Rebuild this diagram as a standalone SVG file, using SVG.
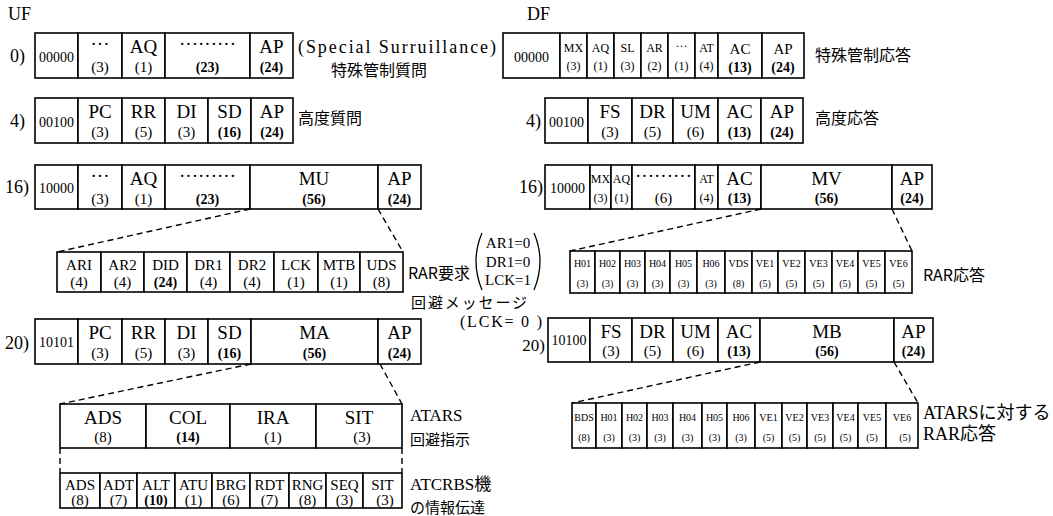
<svg xmlns="http://www.w3.org/2000/svg" width="1053" height="516" viewBox="0 0 1053 516">
<style>
.c{fill:#fff;stroke:#000;stroke-width:1.6}
text{font-family:"Liberation Serif","Noto Sans CJK JP",serif;fill:#000;text-anchor:middle}
.l{font-size:19px}
.n{font-size:14px;font-weight:bold}
.m{font-size:15px}
.s{font-size:12px}
.t{font-size:10px}
.f{font-size:14px}
.j{font-family:"Noto Sans CJK JP",sans-serif;font-size:16px;text-anchor:start}
.h{font-size:18px;text-anchor:start}
.d{fill:none;stroke:#000;stroke-width:1.4;stroke-dasharray:6 4}
</style>
<rect width="1053" height="516" fill="#fff"/>
<text class="h" x="8" y="20">UF</text>
<text class="h" x="527" y="20">DF</text>

<g id="uf0">
<text class="h" x="10" y="62">0)</text>
<rect class="c" x="35" y="33" width="43" height="45"/><text class="f" x="56.5" y="62">00000</text>
<rect class="c" x="78" y="33" width="44" height="45"/><text class="l" x="100" y="50">···</text><text class="m" x="100" y="72">(3)</text>
<rect class="c" x="122" y="33" width="43" height="45"/><text class="l" x="143.5" y="53">AQ</text><text class="m" x="143.5" y="72">(1)</text>
<rect class="c" x="165" y="33" width="85" height="45"/><text class="l" x="207.5" y="50">·········</text><text class="n" x="207.5" y="72">(23)</text>
<rect class="c" x="250" y="33" width="43" height="45"/><text class="l" x="271.5" y="53">AP</text><text class="n" x="271.5" y="72">(24)</text>
<text class="h" x="298" y="53" textLength="198" lengthAdjust="spacing">(Special Surruillance)</text>
<text class="j" x="331" y="76">特殊管制質問</text>
</g>

<g id="uf4">
<text class="h" x="10" y="127">4)</text>
<rect class="c" x="35" y="98" width="43" height="45"/><text class="f" x="56.5" y="127">00100</text>
<rect class="c" x="78" y="98" width="44" height="45"/><text class="l" x="100" y="118">PC</text><text class="m" x="100" y="137">(3)</text>
<rect class="c" x="122" y="98" width="43" height="45"/><text class="l" x="143.5" y="118">RR</text><text class="m" x="143.5" y="137">(5)</text>
<rect class="c" x="165" y="98" width="43" height="45"/><text class="l" x="186.5" y="118">DI</text><text class="m" x="186.5" y="137">(3)</text>
<rect class="c" x="208" y="98" width="43" height="45"/><text class="l" x="229.5" y="118">SD</text><text class="n" x="229.5" y="137">(16)</text>
<rect class="c" x="251" y="98" width="42" height="45"/><text class="l" x="272" y="118">AP</text><text class="n" x="272" y="137">(24)</text>
<text class="j" x="298" y="124">高度質問</text>
</g>

<g id="uf16">
<text class="h" x="5" y="193">16)</text>
<rect class="c" x="35" y="165" width="43" height="44"/><text class="f" x="56.5" y="193">10000</text>
<rect class="c" x="78" y="165" width="44" height="44"/><text class="l" x="100" y="182">···</text><text class="m" x="100" y="204">(3)</text>
<rect class="c" x="122" y="165" width="43" height="44"/><text class="l" x="143.5" y="185">AQ</text><text class="m" x="143.5" y="204">(1)</text>
<rect class="c" x="165" y="165" width="85" height="44"/><text class="l" x="207.5" y="182">·········</text><text class="n" x="207.5" y="204">(23)</text>
<rect class="c" x="250" y="165" width="128" height="44"/><text class="l" x="314" y="185">MU</text><text class="n" x="314" y="204">(56)</text>
<rect class="c" x="378" y="165" width="43" height="44"/><text class="l" x="399.5" y="185">AP</text><text class="n" x="399.5" y="204">(24)</text>
</g>

<g id="rar-req">
<rect class="c" x="57" y="252" width="44" height="40"/><text class="m" x="79" y="270">ARI</text><text class="m" x="79" y="287">(4)</text>
<rect class="c" x="101" y="252" width="43" height="40"/><text class="m" x="122.5" y="270">AR2</text><text class="m" x="122.5" y="287">(4)</text>
<rect class="c" x="144" y="252" width="43" height="40"/><text class="m" x="165.5" y="270">DID</text><text class="n" x="165.5" y="287">(24)</text>
<rect class="c" x="187" y="252" width="43" height="40"/><text class="m" x="208.5" y="270">DR1</text><text class="m" x="208.5" y="287">(4)</text>
<rect class="c" x="230" y="252" width="44" height="40"/><text class="m" x="252" y="270">DR2</text><text class="m" x="252" y="287">(4)</text>
<rect class="c" x="274" y="252" width="44" height="40"/><text class="m" x="296" y="270">LCK</text><text class="m" x="296" y="287">(1)</text>
<rect class="c" x="318" y="252" width="42" height="40"/><text class="m" x="339" y="270">MTB</text><text class="m" x="339" y="287">(1)</text>
<rect class="c" x="360" y="252" width="43" height="40"/><text class="m" x="381.5" y="270">UDS</text><text class="m" x="381.5" y="287">(8)</text>
<text class="j" x="408" y="279">RAR要求</text>
<path d="M482,233 Q470,261 482,290" fill="none" stroke="#000" stroke-width="1.3"/>
<path d="M534,233 Q546,261 534,290" fill="none" stroke="#000" stroke-width="1.3"/>
<text class="m" x="508" y="248">AR1=0</text>
<text class="m" x="508" y="267">DR1=0</text>
<text class="m" x="508" y="285">LCK=1</text>
<text class="j" x="411" y="308" style="font-size:15px" textLength="116" lengthAdjust="spacing">回避メッセージ</text>
<text class="h" x="460" y="327" style="font-size:16px" textLength="82" lengthAdjust="spacing">(LCK= 0 )</text>
</g>

<g id="uf20">
<text class="h" x="5" y="349">20)</text>
<rect class="c" x="35" y="319" width="43" height="45"/><text class="f" x="56.5" y="347">10101</text>
<rect class="c" x="78" y="319" width="44" height="45"/><text class="l" x="100" y="339">PC</text><text class="m" x="100" y="358">(3)</text>
<rect class="c" x="122" y="319" width="43" height="45"/><text class="l" x="143.5" y="339">RR</text><text class="m" x="143.5" y="358">(5)</text>
<rect class="c" x="165" y="319" width="43" height="45"/><text class="l" x="186.5" y="339">DI</text><text class="m" x="186.5" y="358">(3)</text>
<rect class="c" x="208" y="319" width="43" height="45"/><text class="l" x="229.5" y="339">SD</text><text class="n" x="229.5" y="358">(16)</text>
<rect class="c" x="251" y="319" width="127" height="45"/><text class="l" x="314.5" y="339">MA</text><text class="n" x="314.5" y="358">(56)</text>
<rect class="c" x="378" y="319" width="43" height="45"/><text class="l" x="399.5" y="339">AP</text><text class="n" x="399.5" y="358">(24)</text>
</g>

<g id="atars">
<rect class="c" x="60" y="404" width="86" height="44"/><text class="l" x="103" y="424">ADS</text><text class="m" x="103" y="442">(8)</text>
<rect class="c" x="146" y="404" width="84" height="44"/><text class="l" x="188" y="424">COL</text><text class="n" x="188" y="442">(14)</text>
<rect class="c" x="230" y="404" width="86" height="44"/><text class="l" x="273" y="424">IRA</text><text class="m" x="273" y="442">(1)</text>
<rect class="c" x="316" y="404" width="86" height="44"/><text class="l" x="359" y="424">SIT</text><text class="m" x="362" y="442">(3)</text>
<text class="h" x="410" y="421" style="font-size:17px">ATARS</text>
<text class="j" x="410" y="445" style="font-size:15px">回避指示</text>
</g>

<g id="atcrbs">
<rect class="c" x="60" y="473" width="40" height="35"/><text class="m" x="80" y="490">ADS</text><text class="m" x="80" y="505">(8)</text>
<rect class="c" x="100" y="473" width="37" height="35"/><text class="m" x="118.5" y="490">ADT</text><text class="m" x="118.5" y="505">(7)</text>
<rect class="c" x="137" y="473" width="38" height="35"/><text class="m" x="156" y="490">ALT</text><text class="n" x="156" y="505">(10)</text>
<rect class="c" x="175" y="473" width="37" height="35"/><text class="m" x="193.5" y="490">ATU</text><text class="m" x="193.5" y="505">(1)</text>
<rect class="c" x="212" y="473" width="38" height="35"/><text class="m" x="231" y="490">BRG</text><text class="m" x="231" y="505">(6)</text>
<rect class="c" x="250" y="473" width="39" height="35"/><text class="m" x="269.5" y="490">RDT</text><text class="m" x="269.5" y="505">(7)</text>
<rect class="c" x="289" y="473" width="37" height="35"/><text class="m" x="307.5" y="490">RNG</text><text class="m" x="307.5" y="505">(8)</text>
<rect class="c" x="326" y="473" width="37" height="35"/><text class="m" x="344.5" y="490">SEQ</text><text class="m" x="344.5" y="505">(3)</text>
<rect class="c" x="363" y="473" width="39" height="35"/><text class="m" x="382.5" y="490">SIT</text><text class="m" x="385" y="505">(3)</text>
<text class="h" x="410" y="490" style="font-size:17px">ATCRBS機</text>
<text class="j" x="410" y="513" style="font-size:15px">の情報伝達</text>
</g>

<g id="df0">
<rect class="c" x="503" y="33" width="57" height="45"/><text class="f" x="531.5" y="62">00000</text>
<rect class="c" x="560" y="33" width="27" height="45"/><text class="s" x="573.5" y="52">MX</text><text class="s" x="573.5" y="70">(3)</text>
<rect class="c" x="587" y="33" width="27" height="45"/><text class="s" x="600.5" y="52">AQ</text><text class="s" x="600.5" y="70">(1)</text>
<rect class="c" x="614" y="33" width="27" height="45"/><text class="s" x="627.5" y="52">SL</text><text class="s" x="627.5" y="70">(3)</text>
<rect class="c" x="641" y="33" width="27" height="45"/><text class="s" x="654.5" y="52">AR</text><text class="s" x="654.5" y="70">(2)</text>
<rect class="c" x="668" y="33" width="27" height="45"/><text class="s" x="681.5" y="50">···</text><text class="s" x="681.5" y="70">(1)</text>
<rect class="c" x="695" y="33" width="23" height="45"/><text class="s" x="706.5" y="52">AT</text><text class="s" x="706.5" y="70">(4)</text>
<rect class="c" x="718" y="33" width="44" height="45"/><text class="m" x="740" y="54">AC</text><text class="n" x="740" y="72">(13)</text>
<rect class="c" x="762" y="33" width="42" height="45"/><text class="m" x="783" y="54">AP</text><text class="n" x="783" y="72">(24)</text>
<text class="j" x="815" y="61">特殊管制応答</text>
</g>

<g id="df4">
<text class="h" x="541" y="127" style="text-anchor:end">4)</text>
<rect class="c" x="545" y="98" width="43" height="45"/><text class="f" x="566.5" y="127">00100</text>
<rect class="c" x="588" y="98" width="44" height="45"/><text class="l" x="610" y="118">FS</text><text class="m" x="610" y="137">(3)</text>
<rect class="c" x="632" y="98" width="41" height="45"/><text class="l" x="652.5" y="118">DR</text><text class="m" x="652.5" y="137">(5)</text>
<rect class="c" x="673" y="98" width="45" height="45"/><text class="l" x="695.5" y="118">UM</text><text class="m" x="695.5" y="137">(6)</text>
<rect class="c" x="718" y="98" width="43" height="45"/><text class="l" x="739.5" y="118">AC</text><text class="n" x="739.5" y="137">(13)</text>
<rect class="c" x="761" y="98" width="42" height="45"/><text class="l" x="782" y="118">AP</text><text class="n" x="782" y="137">(24)</text>
<text class="j" x="815" y="124">高度応答</text>
</g>

<g id="df16">
<text class="h" x="543" y="193" style="text-anchor:end">16)</text>
<rect class="c" x="545" y="165" width="45" height="44"/><text class="f" x="567.5" y="193">10000</text>
<rect class="c" x="590" y="165" width="21" height="44"/><text class="s" x="600.5" y="183">MX</text><text class="s" x="600.5" y="202">(3)</text>
<rect class="c" x="611" y="165" width="21" height="44"/><text class="s" x="621.5" y="183">AQ</text><text class="s" x="621.5" y="202">(1)</text>
<rect class="c" x="632" y="165" width="63" height="44"/><text class="l" x="663.5" y="182">·········</text><text class="m" x="663.5" y="203">(6)</text>
<rect class="c" x="695" y="165" width="23" height="44"/><text class="s" x="706.5" y="183">AT</text><text class="s" x="706.5" y="202">(4)</text>
<rect class="c" x="718" y="165" width="43" height="44"/><text class="l" x="739.5" y="185">AC</text><text class="n" x="739.5" y="203">(13)</text>
<rect class="c" x="761" y="165" width="131" height="44"/><text class="l" x="826.5" y="185">MV</text><text class="n" x="826.5" y="203">(56)</text>
<rect class="c" x="892" y="165" width="40" height="44"/><text class="l" x="912" y="185">AP</text><text class="n" x="912" y="203">(24)</text>
</g>

<g id="rar-resp">
<rect class="c" x="570" y="251" width="25" height="42"/><text class="t" x="582.5" y="267">H01</text><text class="t" x="582.5" y="287">(3)</text>
<rect class="c" x="595" y="251" width="25" height="42"/><text class="t" x="607.5" y="267">H02</text><text class="t" x="607.5" y="287">(3)</text>
<rect class="c" x="620" y="251" width="25" height="42"/><text class="t" x="632.5" y="267">H03</text><text class="t" x="632.5" y="287">(3)</text>
<rect class="c" x="645" y="251" width="25" height="42"/><text class="t" x="657.5" y="267">H04</text><text class="t" x="657.5" y="287">(3)</text>
<rect class="c" x="670" y="251" width="27" height="42"/><text class="t" x="683.5" y="267">H05</text><text class="t" x="683.5" y="287">(3)</text>
<rect class="c" x="697" y="251" width="28" height="42"/><text class="t" x="711" y="267">H06</text><text class="t" x="711" y="287">(3)</text>
<rect class="c" x="725" y="251" width="27" height="42"/><text class="t" x="738.5" y="267">VDS</text><text class="t" x="738.5" y="287">(8)</text>
<rect class="c" x="752" y="251" width="26" height="42"/><text class="t" x="765" y="267">VE1</text><text class="t" x="765" y="287">(5)</text>
<rect class="c" x="778" y="251" width="27" height="42"/><text class="t" x="791.5" y="267">VE2</text><text class="t" x="791.5" y="287">(5)</text>
<rect class="c" x="805" y="251" width="27" height="42"/><text class="t" x="818.5" y="267">VE3</text><text class="t" x="818.5" y="287">(5)</text>
<rect class="c" x="832" y="251" width="26" height="42"/><text class="t" x="845" y="267">VE4</text><text class="t" x="845" y="287">(5)</text>
<rect class="c" x="858" y="251" width="27" height="42"/><text class="t" x="871.5" y="267">VE5</text><text class="t" x="871.5" y="287">(5)</text>
<rect class="c" x="885" y="251" width="27" height="42"/><text class="t" x="898.5" y="267">VE6</text><text class="t" x="898.5" y="287">(5)</text>
<text class="j" x="923" y="281">RAR応答</text>
</g>

<g id="df20">
<text class="h" x="545" y="351" style="text-anchor:end;font-size:17px">20)</text>
<rect class="c" x="548" y="318" width="42" height="44"/><text class="f" x="569" y="345">10100</text>
<rect class="c" x="590" y="318" width="42" height="44"/><text class="l" x="611" y="338">FS</text><text class="m" x="611" y="356">(3)</text>
<rect class="c" x="632" y="318" width="41" height="44"/><text class="l" x="652.5" y="338">DR</text><text class="m" x="652.5" y="356">(5)</text>
<rect class="c" x="673" y="318" width="45" height="44"/><text class="l" x="695.5" y="338">UM</text><text class="m" x="695.5" y="356">(6)</text>
<rect class="c" x="718" y="318" width="42" height="44"/><text class="l" x="739" y="338">AC</text><text class="n" x="739" y="356">(13)</text>
<rect class="c" x="760" y="318" width="134" height="44"/><text class="l" x="827" y="338">MB</text><text class="n" x="827" y="356">(56)</text>
<rect class="c" x="894" y="318" width="39" height="44"/><text class="l" x="913.5" y="338">AP</text><text class="n" x="913.5" y="356">(24)</text>
</g>

<g id="atars-resp">
<rect class="c" x="572" y="403" width="24" height="45"/><text class="t" x="584" y="421">BDS</text><text class="t" x="584" y="441">(8)</text>
<rect class="c" x="596" y="403" width="26" height="45"/><text class="t" x="609" y="421">H01</text><text class="t" x="609" y="441">(3)</text>
<rect class="c" x="622" y="403" width="25" height="45"/><text class="t" x="634.5" y="421">H02</text><text class="t" x="634.5" y="441">(3)</text>
<rect class="c" x="647" y="403" width="26" height="45"/><text class="t" x="660" y="421">H03</text><text class="t" x="660" y="441">(3)</text>
<rect class="c" x="673" y="403" width="29" height="45"/><text class="t" x="687.5" y="421">H04</text><text class="t" x="687.5" y="441">(3)</text>
<rect class="c" x="702" y="403" width="25" height="45"/><text class="t" x="714.5" y="421">H05</text><text class="t" x="714.5" y="441">(3)</text>
<rect class="c" x="727" y="403" width="28" height="45"/><text class="t" x="741" y="421">H06</text><text class="t" x="741" y="441">(3)</text>
<rect class="c" x="755" y="403" width="27" height="45"/><text class="t" x="768.5" y="421">VE1</text><text class="t" x="768.5" y="441">(5)</text>
<rect class="c" x="782" y="403" width="25" height="45"/><text class="t" x="794.5" y="421">VE2</text><text class="t" x="794.5" y="441">(5)</text>
<rect class="c" x="807" y="403" width="26" height="45"/><text class="t" x="820" y="421">VE3</text><text class="t" x="820" y="441">(5)</text>
<rect class="c" x="833" y="403" width="25" height="45"/><text class="t" x="845.5" y="421">VE4</text><text class="t" x="845.5" y="441">(5)</text>
<rect class="c" x="858" y="403" width="28" height="45"/><text class="t" x="872" y="421">VE5</text><text class="t" x="872" y="441">(5)</text>
<rect class="c" x="886" y="403" width="32" height="45"/><text class="t" x="902" y="421">VE6</text><text class="t" x="905" y="441">(5)</text>
<text class="h" x="923" y="419">ATARSに対する</text>
<text class="h" x="923" y="440">RAR応答</text>
</g>

<g id="connectors">
<line class="d" x1="250" y1="209" x2="57" y2="252"/>
<line class="d" x1="378" y1="209" x2="403" y2="252"/>
<line class="d" x1="251" y1="364" x2="60" y2="404"/>
<line class="d" x1="380" y1="364" x2="402" y2="404"/>
<line class="d" x1="60" y1="448" x2="60" y2="473"/>
<line class="d" x1="402" y1="448" x2="402" y2="473"/>
<line class="d" x1="761" y1="209" x2="570" y2="251"/>
<line class="d" x1="892" y1="209" x2="912" y2="251"/>
<line class="d" x1="760" y1="362" x2="572" y2="403"/>
<line class="d" x1="894" y1="362" x2="918" y2="403"/>
</g>
</svg>
